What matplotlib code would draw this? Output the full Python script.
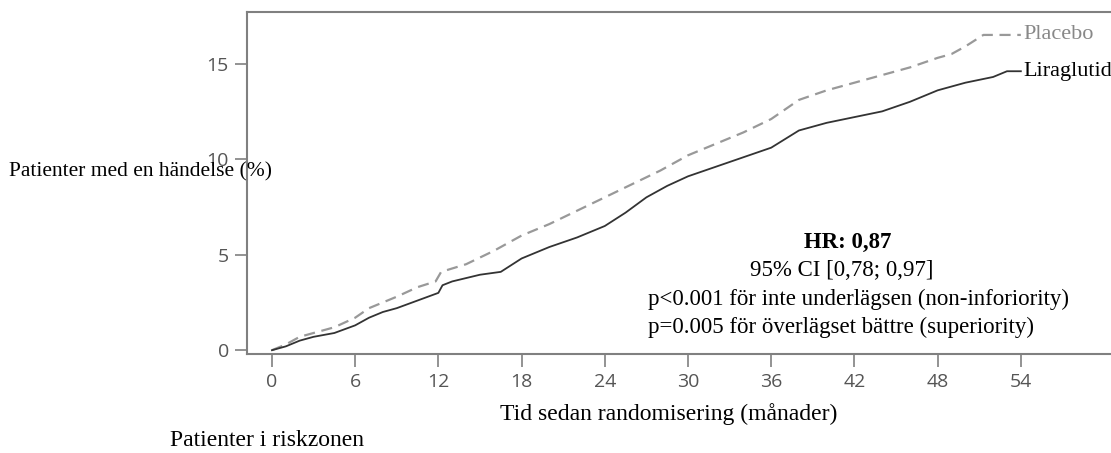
import matplotlib.pyplot as plt

# (months, cumulative % with an event)
lira_t = [0, 1, 2, 3, 4.5, 6, 7, 8, 9, 10.5, 12, 12.3, 13, 15, 16.5, 18, 20, 22, 24,
          25.5, 27, 28.5, 30, 32, 34, 36, 38, 40, 42, 44, 46, 48, 50, 52, 53, 54]
lira_y = [0.0, 0.2, 0.5, 0.7, 0.9, 1.3, 1.7, 2.0, 2.2, 2.6, 3.0, 3.4, 3.6, 3.95, 4.1, 4.8,
          5.4, 5.9, 6.5, 7.2, 8.0, 8.6, 9.1, 9.6, 10.1, 10.6, 11.5, 11.9, 12.2, 12.5, 13.0,
          13.6, 14.0, 14.3, 14.6, 14.6]
plac_t = [0, 1, 2, 3, 4.5, 6, 7, 8, 9, 10.5, 11.8, 12.2, 14, 16, 18, 20, 22, 24, 26, 28,
          30, 32, 34, 36, 38, 40, 42, 44, 46, 48, 49, 50, 51.3, 54]
plac_y = [0.0, 0.3, 0.7, 0.9, 1.2, 1.7, 2.2, 2.5, 2.8, 3.3, 3.6, 4.1, 4.5, 5.2, 6.0, 6.6,
          7.3, 8.0, 8.7, 9.4, 10.2, 10.8, 11.4, 12.1, 13.1, 13.6, 14.0, 14.4, 14.8, 15.3,
          15.5, 15.9, 16.5, 16.5]
x_ticks = [0, 6, 12, 18, 24, 30, 36, 42, 48, 54]
y_ticks = [0, 5, 10, 15]

serif = 'Liberation Serif'
fig = plt.figure(figsize=(11.11, 4.53), dpi=100)
ax = fig.add_axes([0.2223, 0.2185, 0.7777, 0.7550])

ax.plot(plac_t, plac_y, color='#999999', lw=1.6, ls=(0, (5, 3)))
ax.plot(lira_t, lira_y, color='#333333', lw=1.3)

ax.set_xlim(-1.8, 60.5)
ax.set_ylim(-0.2, 17.7)
ax.set_xticks(x_ticks)
ax.set_yticks(y_ticks)
for s in ['left', 'top', 'bottom']:
    ax.spines[s].set_color('#808080')
    ax.spines[s].set_linewidth(1.5)
ax.spines['right'].set_visible(False)
ax.tick_params(axis='both', colors='#808080', length=9, width=1.2, labelcolor='#555555',
               labelsize=14)
ax.tick_params(axis='x', pad=5)
ax.tick_params(axis='y', pad=4)
for lab in ax.get_xticklabels() + ax.get_yticklabels():
    lab.set_fontfamily('Open Sans')

ax.text(54.2, 16.5, 'Placebo', family=serif, fontsize=16, color='#888888', va='center')
ax.text(54.2, 14.6, 'Liraglutid', family=serif, fontsize=16, color='black', va='center')

ax.text(41.5, 5.65, 'HR: 0,87', family=serif, fontsize=16.5, weight='bold', ha='center', va='center')
ax.text(41.1, 4.15, '95% CI [0,78; 0,97]', family=serif, fontsize=16.5, ha='center', va='center')
ax.text(27.1, 2.65, 'p<0.001 för inte underlägsen (non-inforiority)', family=serif,
        fontsize=16.5, ha='left', va='center')
ax.text(27.1, 1.2, 'p=0.005 för överlägset bättre (superiority)', family=serif,
        fontsize=16.5, ha='left', va='center')

fig.text(9 / 1111, 1 - 172 / 453, 'Patienter med en händelse (%)', family=serif,
         fontsize=15.5, ha='left', va='center')
fig.text(669 / 1111, 1 - 414 / 453, 'Tid sedan randomisering (månader)', family=serif,
         fontsize=17, ha='center', va='center')
fig.text(170 / 1111, 1 - 440 / 453, 'Patienter i riskzonen', family=serif,
         fontsize=17, ha='left', va='center')

fig.savefig('out.png', dpi=100)
